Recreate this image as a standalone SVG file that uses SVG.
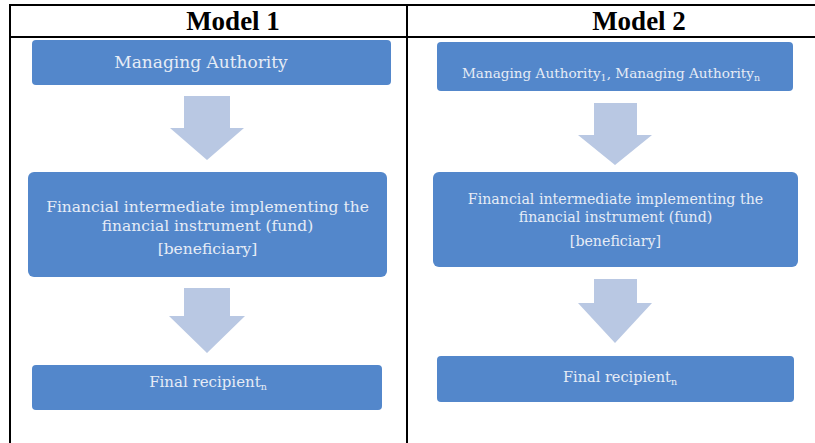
<svg xmlns="http://www.w3.org/2000/svg" width="815" height="443" viewBox="0 0 815 443">
<style>
.grid{stroke:#000;stroke-width:2;fill:none}
.hdr{font-family:"Liberation Serif","Times New Roman",serif;font-weight:bold;font-size:27px;fill:#000;text-anchor:middle}
.box{fill:#5387CB}
.lbl{font-family:"DejaVu Serif","Liberation Serif",serif;fill:#E6ECF6;text-anchor:middle}
.l1{font-size:15.5px}
.l2{font-size:14.2px}
.sub{font-size:9.5px}
.arr{fill:#B9C8E3}
</style>
<rect width="815" height="443" fill="#fff"/>
<g id="table">
<line class="grid" x1="9" y1="5" x2="815" y2="5"/>
<line class="grid" x1="9" y1="37" x2="815" y2="37"/>
<line class="grid" x1="10" y1="4" x2="10" y2="443"/>
<line class="grid" x1="407" y1="4" x2="407" y2="443"/>
<text class="hdr" x="233" y="30">Model 1</text>
<text class="hdr" x="639" y="30">Model 2</text>
</g>
<g id="connectors">
<polygon class="arr" points="184,96 230,96 230,128 244,128 207,160 170,128 184,128"/>
<polygon class="arr" points="184,288 230,288 230,316 245,316 207,353 169,316 184,316"/>
<polygon class="arr" points="594,103 637,103 637,135 652,135 615,165 578,135 594,135"/>
<polygon class="arr" points="594,279 637,279 637,303 652,303 615,343 578,303 594,303"/>
</g>
<g id="m1-authority">
<rect class="box" x="32" y="40" width="359" height="45" rx="4"/>
<text class="lbl" style="font-size:17px" x="201" y="68">Managing Authority</text>
</g>
<g id="m1-intermediate">
<rect class="box" x="28" y="172" width="359" height="105" rx="6"/>
<text class="lbl l1" x="207.5" y="212">Financial intermediate implementing the</text>
<text class="lbl l1" x="207.5" y="231">financial instrument (fund)</text>
<text class="lbl l1" x="207.5" y="254">[beneficiary]</text>
</g>
<g id="m1-recipient">
<rect class="box" x="32" y="365" width="350" height="45" rx="4"/>
<text class="lbl" style="font-size:15px" x="208" y="387">Final recipient<tspan class="sub" dy="3">n</tspan></text>
</g>
<g id="m2-authority">
<rect class="box" x="437" y="42" width="356" height="49" rx="4"/>
<text class="lbl" style="font-size:13.6px" x="611" y="78">Managing Authority<tspan class="sub" dy="3">1</tspan><tspan dy="-3">, Managing Authority</tspan><tspan class="sub" dy="3">n</tspan></text>
</g>
<g id="m2-intermediate">
<rect class="box" x="433" y="172" width="365" height="95" rx="6"/>
<text class="lbl l2" x="615.5" y="204">Financial intermediate implementing the</text>
<text class="lbl l2" x="615.5" y="222">financial instrument (fund)</text>
<text class="lbl l2" x="615.5" y="246">[beneficiary]</text>
</g>
<g id="m2-recipient">
<rect class="box" x="437" y="356" width="357" height="46" rx="4"/>
<text class="lbl" style="font-size:14.5px" x="620" y="382">Final recipient<tspan class="sub" dy="3">n</tspan></text>
</g>
</svg>
